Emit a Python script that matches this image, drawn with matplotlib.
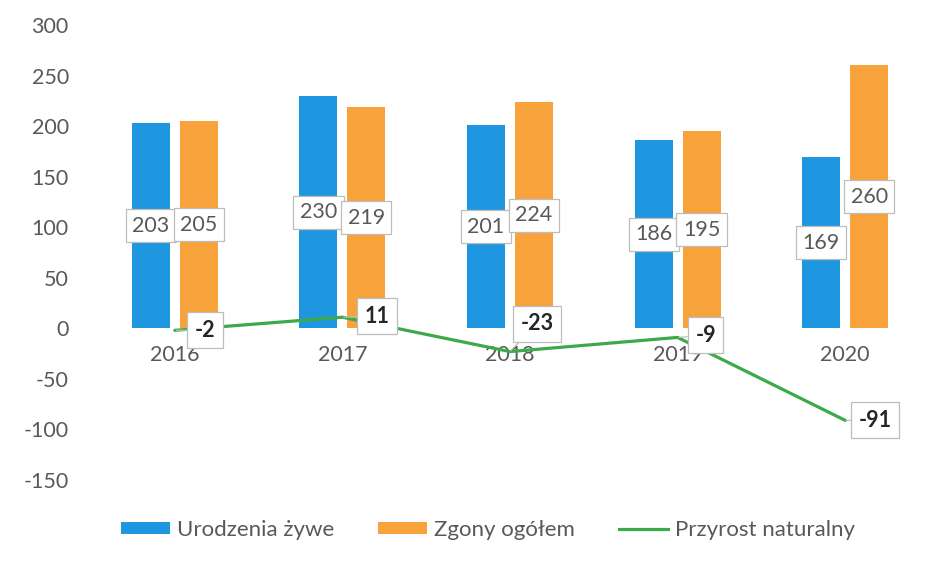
import matplotlib
matplotlib.use("Agg")
import matplotlib.pyplot as plt
from matplotlib.patches import Patch
from matplotlib.lines import Line2D
import numpy as np

years = ["2016", "2017", "2018", "2019", "2020"]
births = [203, 230, 201, 186, 169]
deaths = [205, 219, 224, 195, 260]
natural = [-2, 11, -23, -9, -91]
yticks = [-150, -100, -50, 0, 50, 100, 150, 200, 250, 300]

c_blue = "#1F96E0"
c_orange = "#F7A23A"
c_green = "#3DAA4A"
c_text = "#595959"

plt.rcParams['font.family'] = ['Lato', 'DejaVu Sans']

fig = plt.figure(figsize=(9.46, 5.62), dpi=100)
ax = fig.add_axes([91/946, 1-480/562, (929-91)/946, (480-25)/562])

x = np.arange(len(years))
w = 0.226
off = 0.143
ax.bar(x - off, births, w, color=c_blue, zorder=2)
ax.bar(x + off, deaths, w, color=c_orange, zorder=2)
ax.plot(x, natural, color=c_green, lw=2.3, zorder=3, solid_capstyle='round')

fs = 15.5
box = dict(boxstyle="square,pad=0.3", fc="white", ec="#BDBDBD", lw=0.9)
for i in range(len(years)):
    ax.text(x[i] - off, births[i] / 2, str(births[i]), ha='center', va='center',
            fontsize=fs, color=c_text, bbox=box, zorder=5)
    ax.text(x[i] + off, deaths[i] / 2, str(deaths[i]), ha='center', va='center',
            fontsize=fs, color=c_text, bbox=box, zorder=5)

offsets = [(30, 0), (35, 1), (27, 28), (28, 2), (30, 0)]
for i in range(len(years)):
    dx, dy = offsets[i]
    ax.annotate(str(natural[i]), xy=(x[i], natural[i]),
                xytext=(dx * 0.72, dy * 0.72), textcoords='offset points',
                ha='center', va='center', fontsize=fs, fontweight='bold', color="#262626",
                bbox=dict(boxstyle="square,pad=0.35", fc="white", ec="#BDBDBD", lw=0.9),
                arrowprops=dict(arrowstyle='-', color="#BDBDBD", lw=0.9, shrinkA=0, shrinkB=1),
                zorder=6)

for i, yr in enumerate(years):
    ax.annotate(yr, xy=(x[i], 0), xytext=(0, -27 * 0.72), textcoords='offset points',
                ha='center', va='center', fontsize=fs, color=c_text, zorder=1)

ax.set_xlim(-0.5, len(years) - 0.5)
ax.set_ylim(-150, 300)
ax.set_yticks(yticks)
ax.set_yticklabels([str(v) for v in yticks], fontsize=fs, color=c_text)
ax.set_xticks([])
ax.tick_params(axis='y', length=0, pad=16)
for s in ax.spines.values():
    s.set_visible(False)

handles = [Patch(facecolor=c_blue, edgecolor='none'),
           Patch(facecolor=c_orange, edgecolor='none'),
           Line2D([0], [0], color=c_green, lw=2.3)]
labels = ["Urodzenia żywe", "Zgony ogółem", "Przyrost naturalny"]
leg = fig.legend(handles, labels, loc='center', bbox_to_anchor=(488/946, 1-530/562),
                 ncol=3, frameon=False, fontsize=16, handlelength=2.2, handleheight=0.45,
                 handletextpad=0.3, columnspacing=2.0)
for t in leg.get_texts():
    t.set_color(c_text)

fig.savefig("out.png", dpi=100)
